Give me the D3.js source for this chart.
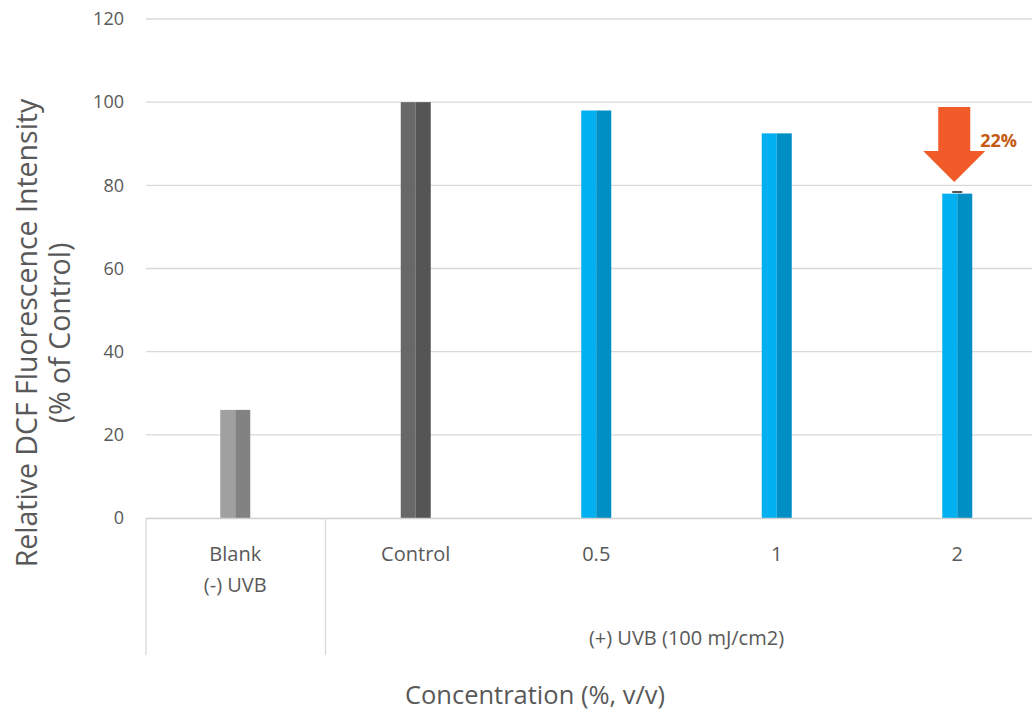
<!DOCTYPE html>
<html><head><meta charset="utf-8">
<script src="https://cdnjs.cloudflare.com/ajax/libs/d3/7.8.5/d3.min.js"></script>
<style>body{margin:0;background:#fff}svg{display:block}text{font-family:"Open Sans","Noto Sans",sans-serif}</style>
</head><body><svg id="c" width="1032" height="712"></svg>
<script>
const categories = ["Blank", "Control", "0.5", "1", "2"];
const subLabels = ["(-) UVB", "", "", "", ""];
const values = [26, 100, 98, 92.5, 78];
const errors = [0, 0, 0, 0, 0.4];
const yTicks = [0, 20, 40, 60, 80, 100, 120];
const groupLabel = "(+) UVB (100 mJ/cm2)";
const annotation = "22%";
const leftColors = ["#a0a0a0", "#686868", "#00b0f0", "#00b0f0", "#00b0f0"];
const rightColors = ["#828282", "#555555", "#008fc4", "#008fc4", "#008fc4"];

const svg = d3.select("#c");
const x = d3.scaleBand().domain(categories).range([145, 1047.5]);
const y = d3.scaleLinear().domain([0, 120]).range([518, 19]);
const barW = 30;

// gridlines
svg.append("g").selectAll("line").data(yTicks.filter(d => d > 0)).join("line")
  .attr("x1", 146).attr("x2", 1032).attr("y1", d => y(d)).attr("y2", d => y(d))
  .attr("stroke", "#d9d9d9").attr("stroke-width", 1.3);
// y tick labels
svg.append("g").selectAll("text").data(yTicks).join("text")
  .attr("x", 124).attr("y", d => y(d)).attr("dy", "0.35em").attr("text-anchor", "end")
  .attr("fill", "#595959").attr("font-size", 18).text(d => d);

// bars
const bars = svg.append("g").selectAll("g").data(categories).join("g");
bars.append("rect").attr("x", (d) => x(d) + x.bandwidth() / 2 - barW / 2)
  .attr("y", (d, i) => y(values[i])).attr("width", barW / 2)
  .attr("height", (d, i) => y(0) - y(values[i])).attr("fill", (d, i) => leftColors[i]);
bars.append("rect").attr("x", (d) => x(d) + x.bandwidth() / 2)
  .attr("y", (d, i) => y(values[i])).attr("width", barW / 2)
  .attr("height", (d, i) => y(0) - y(values[i])).attr("fill", (d, i) => rightColors[i]);
// error caps
bars.filter((d, i) => errors[i] > 0).append("rect")
  .attr("x", d => x(d) + x.bandwidth() / 2 - 5)
  .attr("y", (d) => { const i = categories.indexOf(d); return y(values[i] + errors[i]) - 1; })
  .attr("width", 10).attr("height", 2).attr("fill", "#555");

// axis lines
svg.append("line").attr("x1", 146).attr("x2", 1032).attr("y1", y(0) + 0.5).attr("y2", y(0) + 0.5)
  .attr("stroke", "#d0d0d0").attr("stroke-width", 1.3);
[x.range()[0] + 1, x("Control")].forEach(xx => {
  svg.append("line").attr("x1", xx).attr("x2", xx).attr("y1", y(0)).attr("y2", 655)
    .attr("stroke", "#d9d9d9").attr("stroke-width", 1.3);
});

// category labels
svg.append("g").selectAll("text").data(categories).join("text")
  .attr("x", d => x(d) + x.bandwidth() / 2).attr("y", 561).attr("text-anchor", "middle")
  .attr("fill", "#595959").attr("font-size", 20).text(d => d);
svg.append("g").selectAll("text").data(subLabels).join("text")
  .attr("x", (d, i) => x(categories[i]) + x.bandwidth() / 2).attr("y", 592).attr("text-anchor", "middle")
  .attr("fill", "#595959").attr("font-size", 20).text(d => d);
svg.append("text").attr("x", (x("Control") + x.range()[1]) / 2).attr("y", 645)
  .attr("text-anchor", "middle").attr("fill", "#595959").attr("font-size", 20).text(groupLabel);

// axis titles
svg.append("text").attr("x", 535).attr("y", 704).attr("text-anchor", "middle")
  .attr("fill", "#595959").attr("font-size", 25.5).text("Concentration (%, v/v)");
const yt = svg.append("text").attr("transform", "translate(37,333) rotate(-90)")
  .attr("text-anchor", "middle").attr("fill", "#595959").attr("font-size", 28.5);
yt.append("tspan").attr("x", 0).attr("dy", 0).text("Relative DCF Fluorescence Intensity");
yt.append("tspan").attr("x", 0).attr("dy", 33).text("(% of Control)");

// arrow annotation
const ax = x("2") + x.bandwidth() / 2 - 3;
const tipY = y(values[4] + errors[4]) - 10;
const arrow = d3.path();
arrow.moveTo(ax - 16, 107); arrow.lineTo(ax + 16, 107); arrow.lineTo(ax + 16, 151);
arrow.lineTo(ax + 31, 151); arrow.lineTo(ax, tipY); arrow.lineTo(ax - 31, 151);
arrow.lineTo(ax - 16, 151); arrow.closePath();
svg.append("path").attr("d", arrow.toString()).attr("fill", "#f15a29");
svg.append("text").attr("x", ax + 26).attr("y", 147).attr("fill", "#c55a11")
  .attr("font-size", 18).attr("font-weight", "bold").text(annotation);
</script></body></html>
